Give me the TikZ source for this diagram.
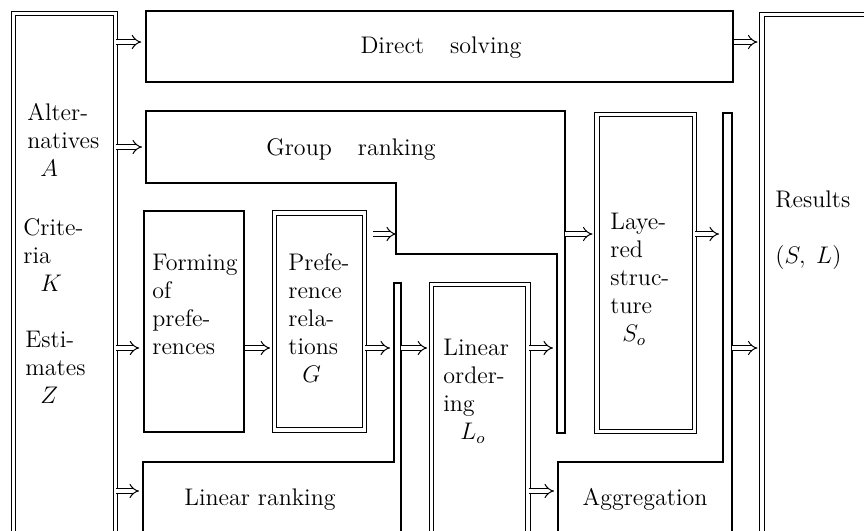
\documentclass[tikz,border=0pt]{standalone}
\usetikzlibrary{arrows.meta, fit}

\tikzset{
  box/.style={draw, line width=0.75pt, inner sep=0pt},
  dbox/.style={draw, double, double distance=1.6pt, line width=0.55pt, inner sep=0pt},
  wall/.style={line width=0.75pt},
  imp/.style={double, double distance=2pt, line width=0.5pt, -{Implies}, shorten >=2pt},
  txt/.style={font=\fontsize{12}{14}\selectfont, align=left, inner sep=0pt, anchor=north west},
  title/.style={font=\fontsize{12}{14}\selectfont, inner sep=0pt, anchor=base},
}

\begin{document}
\begin{tikzpicture}[x=0.5pt, y=-0.5pt]
  \useasboundingbox (0,0) rectangle (864,531);
  \clip (0,0) rectangle (864,531);

  % heights of the arrow rows
  \coordinate (r1) at (0,42);
  \coordinate (r2) at (0,147);
  \coordinate (r3) at (0,234);
  \coordinate (r4) at (0,348);
  \coordinate (r5) at (0,491);

  % rectangular blocks
  \node [dbox, fit={(13.3,13.3) (115.2,560)}] (input) {};
  \node [box, fit={(146,11) (733,82)}] (direct) {};
  \node [box, fit={(144,211) (244,432)}] (forming) {};
  \node [dbox, fit={(274.7,213) (364.7,430)}] (prefrel) {};
  \node [dbox, fit={(431.7,284.5) (528,560)}] (linord) {};
  \node [dbox, fit={(597,114.5) (694.7,431.3)}] (layered) {};
  \node [dbox, fit={(762,14.5) (880,560)}] (results) {};

  % group ranking with its step and its narrow leg
  \draw [wall] (557,433) -- (557,254) -- (396,254) -- (396,183) -- (146,183)
    -- (146,111) -- (565,111) -- (565,433) -- cycle;
  \coordinate (grp-w) at (146,111);
  \coordinate (grp-step) at (396,183);
  \coordinate (grp-in) at (557,254);
  \coordinate (grp-out) at (565,111);

  % linear ranking
  \draw [wall] (143,560) -- (143,462) -- (394,462) -- (394,283) -- (401,283) -- (401,560);
  \coordinate (lin-w) at (143,462);
  \coordinate (lin-in) at (394,283);
  \coordinate (lin-out) at (401,283);

  % aggregation
  \draw [wall] (558,560) -- (558,462) -- (723,462) -- (723,113) -- (732,113) -- (732,560);
  \coordinate (agg-w) at (558,462);
  \coordinate (agg-in) at (723,113);
  \coordinate (agg-out) at (732,113);

  % labels
  \node [txt] (alt) at (27,100.4) {\strut Alter-\\natives\\\hspace{6.5pt}$A$};
  \node [txt] (crit) at (23,215.4) {\strut Crite-\\ria\\\hspace{8.5pt}$K$};
  \node [txt] (est) at (25,327.4) {\strut Esti-\\mates\\\hspace{7.5pt}$Z$};
  \node [title] (direct-t) at (441,53) {Direct\hspace{13pt}solving};
  \node [title] (group-t) at (351,155) {Group\hspace{13pt}ranking};
  \node [txt] (forming-t) at (152,250.4) {\strut Forming\\of\\prefe-\\rences};
  \node [txt] (prefrel-t) at (288,250.4) {\strut Prefe-\\rence\\rela-\\tions\\\hspace{7pt}$G$};
  \node [txt] (linord-t) at (443,335.4) {\strut Linear\\order-\\ing\\\hspace{8.5pt}$L_o$};
  \node [txt] (layered-t) at (610,209.4) {\strut Laye-\\red\\struc-\\ture\\\hspace{6pt}$S_o$};
  \node [txt] (results-t) at (775,187.4) {\strut Results\\[14pt]$(S,\;L)$};
  \node [title] (lin-t) at (260,505) {Linear ranking};
  \node [title] (agg-t) at (645,505) {Aggregation};

  % arrows
  \draw [imp] (input.east |- r1) -- (direct.west |- r1);
  \draw [imp] (direct.east |- r1) -- (results.west |- r1);
  \draw [imp] (input.east |- r2) -- (grp-w |- r2);
  \draw [imp] (input.east |- r4) -- (forming.west |- r4);
  \draw [imp] (input.east |- r5) -- (lin-w |- r5);
  \draw [imp] (forming.east |- r4) -- (prefrel.west |- r4);
  \draw [imp, shorten <=4pt, shorten >=0pt] (prefrel.east |- r3) -- (grp-step |- r3);
  \draw [imp] (prefrel.east |- r4) -- (lin-in |- r4);
  \draw [imp] (lin-out |- r4) -- (linord.west |- r4);
  \draw [imp] (linord.east |- r4) -- (grp-in |- r4);
  \draw [imp] (linord.east |- r5) -- (agg-w |- r5);
  \draw [imp] (grp-out |- r3) -- (layered.west |- r3);
  \draw [imp] (layered.east |- r3) -- (agg-in |- r3);
  \draw [imp] (agg-out |- r4) -- (results.west |- r4);
\end{tikzpicture}
\end{document}
